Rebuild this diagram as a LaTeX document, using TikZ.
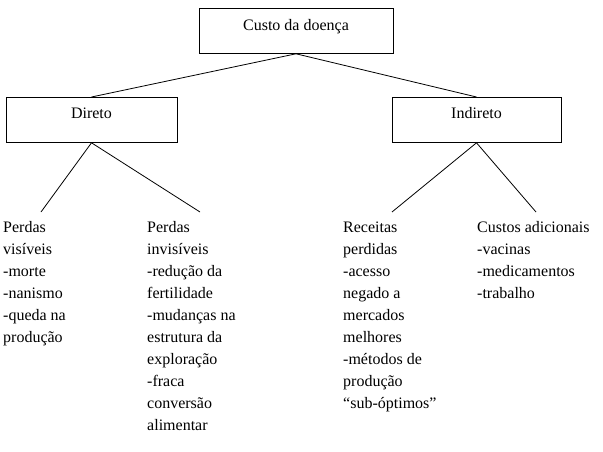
\documentclass[tikz,border=0pt]{standalone}
\usepackage{fontspec}
\setmainfont{Liberation Serif}
\begin{document}
\begin{tikzpicture}[x=1pt,y=-1pt,
  every node/.style={font=\fontsize{16}{22}\selectfont},
  box/.style={draw, line width=0.8pt, inner sep=0pt, minimum height=45pt},
  col/.style={anchor=base west, inner sep=0pt},
  conn/.style={line width=0.8pt}]
\useasboundingbox (0,0) rectangle (603,452);
\node[box, minimum width=194pt, text height=22pt, text depth=23pt, anchor=north] (top) at (296,8) {Custo da doença};
\node[box, minimum width=171pt, text height=21pt, text depth=24pt, anchor=north] (dir) at (91.5,97) {Direto};
\node[box, minimum width=169pt, text height=21pt, text depth=24pt, anchor=north] (ind) at (476.5,97) {Indireto};
\draw[conn] (top.south) -- (dir.north);
\draw[conn] (top.south) -- (ind.north);
\coordinate (c1) at (41,212);
\coordinate (c2) at (200,212);
\coordinate (c3) at (392,212);
\coordinate (c4) at (536,212);
\draw[conn] (dir.south) -- (c1);
\draw[conn] (dir.south) -- (c2);
\draw[conn] (ind.south) -- (c3);
\draw[conn] (ind.south) -- (c4);
\node[col] (vis) at (3,232.7) {\begin{tabular}[t]{@{}l@{}}Perdas\\visíveis\\-morte\\-nanismo\\-queda na\\produção\end{tabular}};
\node[col] (invis) at (147,232.7) {\begin{tabular}[t]{@{}l@{}}Perdas\\invisíveis\\-redução da\\fertilidade\\-mudanças na\\estrutura da\\exploração\\-fraca\\conversão\\alimentar\end{tabular}};
\node[col] (rec) at (343,232.7) {\begin{tabular}[t]{@{}l@{}}Receitas\\perdidas\\-acesso\\negado a\\mercados\\melhores\\-métodos de\\produção\\“sub-óptimos”\end{tabular}};
\node[col] (add) at (477,232.7) {\begin{tabular}[t]{@{}l@{}}Custos adicionais\\-vacinas\\-medicamentos\\-trabalho\end{tabular}};
\end{tikzpicture}
\end{document}
